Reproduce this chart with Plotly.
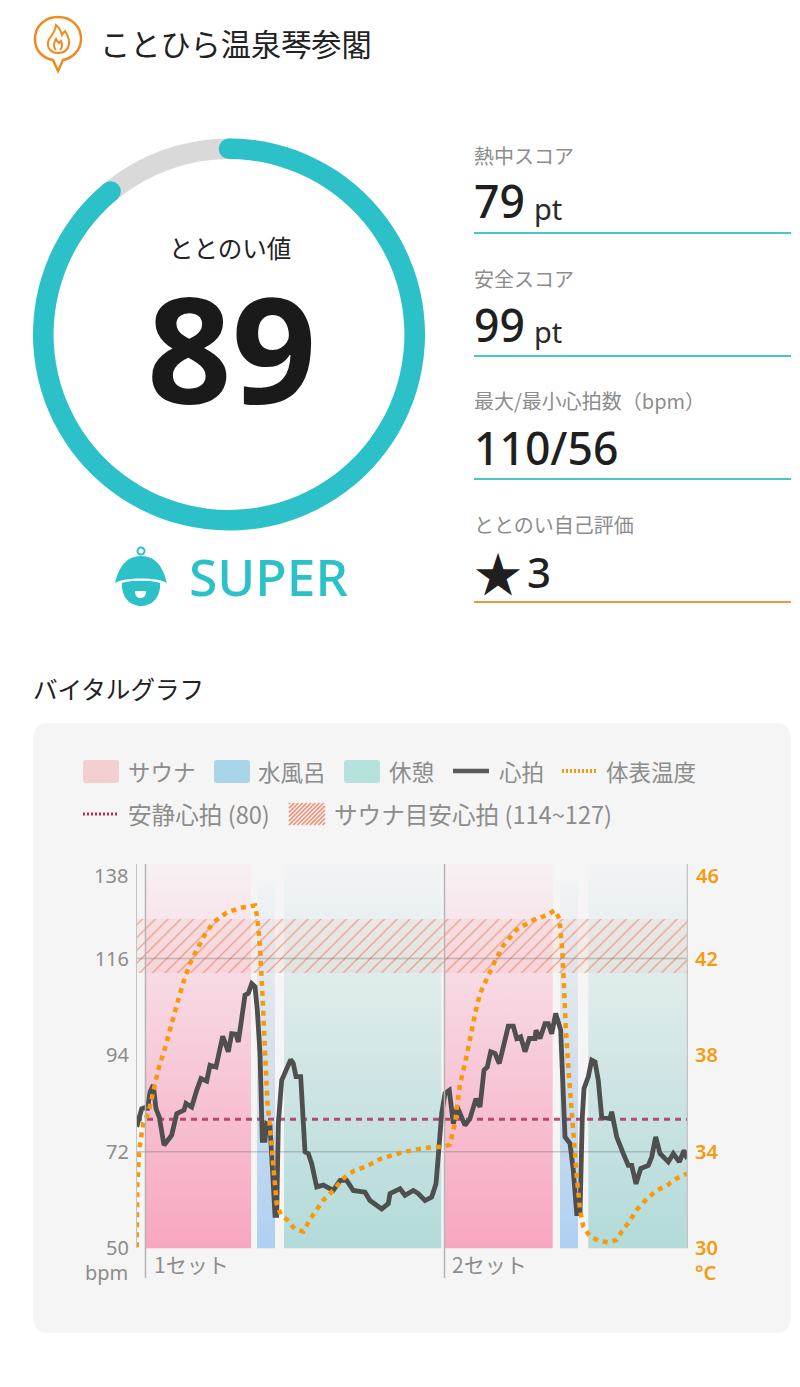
import math
import plotly.graph_objects as go

W, H = 800, 1387
JP = "Noto Sans CJK JP"
LAT = "Noto Sans"
TEAL = "#2cc1c8"
ORANGE = "#f59a0c"
GREY_TXT = "#8c8c8c"
DARK = "#1f1f1f"

# ---------- data ----------
facility = "ことひら温泉琴参閣"
score_label = "ととのい値"
score = 89
rank = "SUPER"
metric_labels = ["熱中スコア", "安全スコア", "最大/最小心拍数（bpm）", "ととのい自己評価"]
metric_values = ["79", "99", "110/56", "3"]
metric_units = ["pt", "pt", "", ""]
hr_ticks = [50, 72, 94, 116]
temp_ticks = [30, 34, 38, 42]
hr_top, temp_top = 138, 46
rest_hr_drawn = 79.4
band_drawn = [112.7, 125]
sets = ["1セット", "2セット"]
set_starts = [9.5, 308.5]
sauna_spans = [(9.7, 115), (309, 416.7)]
cold_spans = [(121, 139), (424, 442)]
rest_spans = [(148, 305.3), (452.3, 551.7)]

hr_t = [0.7, 2.3, 5.7, 10, 11.3, 14, 17.3, 20, 23.3, 28, 32.3, 35.7, 40.7, 43.3, 48, 50, 55.7, 60.7, 65, 70.7,
        74, 80, 86.7, 92.3, 95.7, 100, 102.3, 105.7, 109, 112.3, 115.7, 119, 121.3, 124, 126.3, 129, 130.7, 134,
        137.3, 139, 140.7, 142.3, 145.7, 150.7, 154.7, 157.3, 160, 164.7, 169, 172.3, 175.7, 180.7, 187.3, 197.3,
        204, 210.7, 217.3, 229, 234, 245.7, 252.3, 254, 260.7,
        264, 269, 277.3, 282.3, 289, 295.7, 300, 303.3, 305.7, 309, 313.3, 317.3, 321.3, 329, 334, 340, 344, 348,
        351.3, 354.7, 359, 363.3, 369, 372.3, 377.3, 380.7, 384.7, 389, 393.3, 399, 400, 404, 409, 412.3, 415.7,
        419.7, 424.7, 427.3, 429, 434, 437.3, 440.7, 444, 446.3, 448, 452.3, 455.7, 459, 462.3, 465.7, 474, 475.7,
        480.7, 487.3, 492.3, 495.7, 500, 504.7, 512.3, 515.7, 519.7, 524, 532.3, 537.3, 543.3, 548, 551.3]
hr_v = [77.7, 79.2, 81.8, 82.2, 81.5, 85.6, 87.2, 81.8, 79.9, 73.5, 74.6, 75.8, 80.7, 81.1, 81.5, 83.0, 82.2, 86.0,
        88.7, 88.1, 91.7, 91.3, 98.3, 94.8, 98.9, 98.8, 97.0, 102.4, 107.7, 108.1, 110.3, 109.6, 104.3, 94.4, 74.6,
        74.6, 78.4, 78.0, 64.7, 57.5, 57.5, 78.4, 88.3, 91.3, 93.0, 92.1, 89.1, 89.1, 72.0, 71.6, 69.3, 64.0, 64.4,
        63.2, 65.5, 65.5, 63.2, 62.8, 60.9, 59.0, 60.2, 62.5, 63.2,
        63.6, 62.1, 63.2, 62.5, 60.9, 61.7, 64.7, 73.9, 80.7, 85.3, 86.0, 78.4, 82.2, 78.0, 79.6, 84.1, 82.2, 90.6,
        91.3, 94.8, 94.4, 92.1, 98.2, 100.6, 100.6, 97.8, 98.2, 94.8, 97.8, 97.8, 99.7, 97.8, 101.2, 101.2, 98.9,
        103.5, 99.7, 87.5, 75.4, 73.9, 67.8, 57.9, 57.9, 79.9, 86.4, 89.1, 92.9, 92.5, 88.3, 79.9, 79.6, 81.1,
        75.4, 71.6, 68.9, 68.9, 64.7, 68.2, 68.9, 70.8, 75.4, 71.6, 69.7, 71.6, 69.7, 72.3, 70.4]
temp_t = [0.7, 1.3, 3.3, 7.3, 12.3, 17.3, 22.3, 29, 35.7, 42.3, 48, 54, 60.7, 69, 77.3, 90.7, 104, 119, 121.3, 124,
          126.7, 129, 131.3, 134, 137.3, 140.7, 144.7, 150.7, 159, 167.3, 174, 180.7, 187.3, 197.3, 207.3, 217.3,
          230.7, 244, 260.7,
          264, 280.7, 297.3, 305.7, 314, 319, 324, 329, 334, 339, 344, 350.7, 359, 367.3, 380.7, 397.3, 410.7, 419,
          423.3, 426.3, 427.3, 429.7, 432.3, 435.7, 440.7, 444, 447.3, 454, 464, 472.3, 480.7, 485.7, 494, 500.7,
          510.7, 520.7, 530.7, 540.7, 551.3]
temp_v = [30.05, 32.7, 34.1, 35.2, 35.6, 36.5, 37.4, 38.3, 39.4, 40.3, 41.1, 41.8, 42.35, 43.0, 43.5, 43.9, 44.1, 44.2,
          43.7, 42.5, 40.3, 38.2, 36.1, 35.0, 33.4, 31.85, 31.4, 31.2, 30.8, 30.7, 31.2, 31.6, 32.0, 32.4, 32.9, 33.2,
          33.4, 33.7, 33.9,
          33.95, 34.1, 34.2, 34.2, 34.3, 35.2, 36.8, 37.65, 38.8, 39.7, 40.55, 41.2, 41.9, 42.55, 43.2, 43.6, 43.8,
          44.0, 43.65, 42.35, 41.0, 39.2, 37.5, 35.4, 33.0, 31.6, 30.9, 30.5, 30.3, 30.25, 30.35, 30.7, 31.15, 31.6,
          32.05, 32.4, 32.6, 32.9, 33.1]

legend_row1 = ["サウナ", "水風呂", "休憩", "心拍", "体表温度"]
legend_row2 = ["安静心拍 (80)", "サウナ目安心拍 (114~127)"]


# ---------- pixel helpers for page furniture ----------
def fx(x):
    return x / W


def fy(y):
    return 1 - y / H


def pth(s):
    """Path given as page pixels: tokens are commands or 'x,y'."""
    out = []
    for tok in s.split():
        if "," in tok:
            a, b = tok.split(",")
            out.append(f"{fx(float(a)):.5f},{fy(float(b)):.5f}")
        else:
            out.append(tok)
    return " ".join(out)


shapes, ann = [], []


def text(x, y, s, size, color=GREY_TXT, fam=JP, anchor="left", weight=None):
    f = dict(size=size, color=color, family=fam)
    if weight:
        f["weight"] = weight
    ann.append(dict(xref="paper", yref="paper", x=fx(x), y=fy(y), text=s, showarrow=False, xanchor=anchor,
                    yanchor="middle", font=f, align="left", borderpad=0))


def circle(cx, cy, r, fill, line=None, lw=0, layer="above"):
    shapes.append(dict(type="circle", xref="paper", yref="paper", x0=fx(cx - r), x1=fx(cx + r), y0=fy(cy + r),
                       y1=fy(cy - r), fillcolor=fill, line=dict(color=line or fill, width=lw), layer=layer))


def hline(x0, x1, y, color, width=2, dash="solid"):
    shapes.append(dict(type="line", xref="paper", yref="paper", x0=fx(x0), x1=fx(x1), y0=fy(y), y1=fy(y),
                       line=dict(color=color, width=width, dash=dash)))


fig = go.Figure()

# panel
shapes.append(dict(type="path", xref="paper", yref="paper", layer="below", fillcolor="#f5f5f5", line=dict(width=0),
                   path=pth("M 49,723 L 775,723 Q 791,723 791,739 L 791,1317 Q 791,1333 775,1333 "
                            "L 49,1333 Q 33,1333 33,1317 L 33,739 Q 33,723 49,723 Z")))

# header
shapes.append(dict(type="path", xref="paper", yref="paper", line=dict(color="#f08a1e", width=2.5),
                   path=pth("M 53,60 C 42,58 35,50 35,39 C 35,26 45,17 58,17 C 71,17 81,26 81,39 C 81,50 73,58 63,60 "
                            "L 58,71 L 53,60 Z")))
shapes.append(dict(type="path", xref="paper", yref="paper", line=dict(color="#f08a1e", width=2),
                   path=pth("M 58,53 C 51,53 47,48 48,42 C 49,37 55,34 56,25 C 60,28 61,32 62,35 C 63,33 64,32 65,31 "
                            "C 68,36 70,40 69,44 C 68,50 64,53 58,53 Z M 56,50 C 53,47 53,44 56,39 C 57,41 58,42 59,43 "
                            "C 60,42 61,41 61,41 C 63,45 62,48 60,50")))
text(99, 43, facility, 30.2, "#222222")

# ring
fig.add_trace(go.Pie(values=[score, 100 - score], hole=0.895, sort=False, direction="clockwise", rotation=0,
                     marker=dict(colors=[TEAL, "#d9d9d9"], line=dict(width=0)), textinfo="none", hoverinfo="skip",
                     showlegend=False, automargin=False,
                     domain=dict(x=[fx(33), fx(425)], y=[fy(530.5), fy(138.5)])))
RCX, RCY, RO, RW = 229, 334.5, 196, 20.5
rm = RO - RW / 2
for frac in (0, score / 100):
    a = 2 * math.pi * frac
    circle(RCX + rm * math.sin(a), RCY - rm * math.cos(a), RW / 2, TEAL)
text(230, 247, score_label, 24.5, "#222222", anchor="center")
text(231, 346, str(score), 148, "#1a1a1a", LAT, "center", 700)

# rank mascot
shapes.append(dict(type="path", xref="paper", yref="paper", fillcolor=TEAL, line=dict(width=0),
                   path=pth("M 115,583 C 118,571 124,556 141,556 C 158,556 164,571 167,583 C 158,577 124,577 115,583 Z")))
shapes.append(dict(type="path", xref="paper", yref="paper", fillcolor=TEAL, line=dict(width=0),
                   path=pth("M 122,583 C 130,580 152,580 160,583 C 161,597 152,606 141,606 C 130,606 121,597 122,583 Z")))
circle(141, 551, 3.5, "white", TEAL, 2)
shapes.append(dict(type="path", xref="paper", yref="paper", fillcolor="white", line=dict(width=0),
                   path=pth("M 135,591 L 146,591 C 146,597 143,598 140.5,598 C 138,598 135,597 135,591 Z")))
text(188, 576, rank, 51.5, TEAL, LAT, "left", 500)

# metrics
for i, (lab, val, unit) in enumerate(zip(metric_labels, metric_values, metric_units)):
    y0 = 155 + i * 123
    text(473, y0, lab, 20, GREY_TXT)
    if i == 3:
        text(473, y0 + 47, "★", 48, "#1f1f1f", JP)
        text(526, y0 + 47, val, 42, "#1f1f1f", LAT, "left", 500)
    else:
        text(473, y0 + 46, val, 44.5, "#1f1f1f", LAT, "left", 500)
    if unit:
        text(533, y0 + 53, unit, 29, "#2a2a2a", LAT)
    hline(474, 791, y0 + 78, "#f0963c" if i == 3 else "#4cc4cc", 2)

# chart heading and legend
text(32, 688, "バイタルグラフ", 24.6, "#222222")
for x0, col in ((83, "#f2cfd1"), (214, "#a9d5e8"), (344, "#b5e3dc")):
    shapes.append(dict(type="path", xref="paper", yref="paper", fillcolor=col, line=dict(width=0),
                       path=pth(f"M {x0+3},760 L {x0+33},760 Q {x0+36},760 {x0+36},763 L {x0+36},780 "
                                f"Q {x0+36},783 {x0+33},783 L {x0+3},783 Q {x0},783 {x0},780 L {x0},763 "
                                f"Q {x0},760 {x0+3},760 Z")))
for x, s in zip((127, 257, 388, 498, 605), legend_row1):
    text(x, 771, s, 22.5)
hline(453, 489, 771, "#5a5a5a", 4.5)
hline(562, 598, 771, ORANGE, 4, "2px,2px")
hline(83, 119, 814, "#b0305a", 3, "2px,2px")
text(127, 814, legend_row2[0], 23.6)
text(333, 814, legend_row2[1], 23.6)
for k in range(-5, 11):
    x_a, x_b = 289 + k * 4.2, 289 + k * 4.2 + 22
    y_a, y_b = 825, 803
    if x_a < 289:
        y_a -= 289 - x_a
        x_a = 289
    if x_b > 325:
        y_b += x_b - 325
        x_b = 325
    if x_a < 325 and y_a >= y_b:
        shapes.append(dict(type="line", xref="paper", yref="paper", x0=fx(x_a), x1=fx(x_b), y0=fy(y_a), y1=fy(y_b),
                           line=dict(color="#ee9278", width=1.7)))


# ---------- chart ----------
def zone(span, top, name, c_top, c_mid, c_bot):
    a, b = span
    fig.add_trace(go.Scatter(x=[a, b, b, a, a], y=[50, 50, top, top, 50], mode="lines", line=dict(width=0),
                             fill="toself", hoverinfo="skip", showlegend=False, name=name,
                             fillgradient=dict(type="vertical",
                                               colorscale=[[0, c_bot], [0.5, c_mid], [1, c_top]])))


for s in sauna_spans:
    zone(s, 137.5, "sauna", "#f7f0f2", "#f7cbd9", "#f8a6c0")
for s in cold_spans:
    zone(s, 134, "cold", "#f2f4f6", "#d3dfe9", "#aed0f3")
for s in rest_spans:
    zone(s, 137.5, "rest", "#f2f4f4", "#d3e6e6", "#b2dbd9")

fig.add_trace(go.Scatter(x=[0, 552, 552, 0, 0], y=[band_drawn[0], band_drawn[0], band_drawn[1], band_drawn[1],
                                                   band_drawn[0]],
                         mode="lines", line=dict(width=0), fill="toself", hoverinfo="skip", showlegend=False,
                         fillcolor="rgba(0,0,0,0)",
                         fillpattern=dict(shape="/", size=9, solidity=0.13, fgcolor="rgba(230,115,85,0.72)",
                                          bgcolor="rgba(240,170,150,0.12)", fillmode="replace")))
for yy in (72, 116):
    fig.add_trace(go.Scatter(x=[0, 552], y=[yy, yy], mode="lines", line=dict(color="rgba(110,110,110,0.35)", width=1.5),
                             hoverinfo="skip", showlegend=False))
fig.add_trace(go.Scatter(x=[0, 552], y=[rest_hr_drawn, rest_hr_drawn], mode="lines", hoverinfo="skip", showlegend=False,
                         line=dict(color="rgba(170,50,95,0.85)", width=3, dash="6px,5px")))
fig.add_trace(go.Scatter(x=hr_t, y=hr_v, mode="lines", name="心拍", showlegend=False,
                         line=dict(color="#4f4f4f", width=4.8, shape="linear")))
fig.add_trace(go.Scatter(x=temp_t, y=temp_v, mode="lines", name="体表温度", yaxis="y2", showlegend=False,
                         line=dict(color=ORANGE, width=4.5, dash="5px,5px")))

# axis rules that run past the plot into the set labels
for x, y_bot, col, w in ((0, 1248, "#c4c4c4", 2), (552, 1248, "#c4c4c4", 2.5),
                         (set_starts[0], 1278, "#b5b5b5", 1.5), (set_starts[1], 1278, "#b5b5b5", 1.5)):
    shapes.append(dict(type="line", xref="x", yref="paper", x0=x, x1=x, y0=fy(y_bot), y1=fy(864),
                       line=dict(color=col, width=w)))
for x, s in zip((153, 451), sets):
    text(x, 1264, s, 21)

text(129, 1272, "bpm", 20, GREY_TXT, LAT, "right")
text(694, 1272, "°C", 20, ORANGE, LAT, "left", 600)
ann.append(dict(xref="paper", yref="y", x=fx(130), y=hr_top, yshift=-13, text=str(hr_top), showarrow=False,
                xanchor="right", yanchor="middle", font=dict(size=20, color=GREY_TXT, family=LAT)))
ann.append(dict(xref="paper", yref="y", x=fx(694), y=hr_top, yshift=-13, text=str(temp_top), showarrow=False,
                xanchor="left", yanchor="middle", font=dict(size=20, color=ORANGE, family=LAT, weight=600)))

fig.update_layout(
    template="none",
    width=W, height=H, margin=dict(l=0, r=0, t=0, b=0, pad=0), autosize=False,
    paper_bgcolor="white", plot_bgcolor="rgba(0,0,0,0)", showlegend=False,
    font=dict(family=JP),
    shapes=shapes, annotations=ann,
    xaxis=dict(domain=[fx(136), fx(688)], range=[0, 552], visible=False, fixedrange=True, automargin=False),
    yaxis=dict(domain=[fy(1248.4), fy(862)], range=[50, 138], tickvals=hr_ticks, ticktext=[str(v) for v in hr_ticks],
               showgrid=False, zeroline=False, showline=False, ticks="", automargin=False,
               tickfont=dict(size=20, color=GREY_TXT, family=LAT), ticklabelstandoff=6, fixedrange=True),
    yaxis2=dict(overlaying="y", side="right", range=[30, 46], tickvals=temp_ticks, automargin=False,
                ticktext=[str(v) for v in temp_ticks], showgrid=False, zeroline=False, showline=False, ticks="",
                tickfont=dict(size=20, color=ORANGE, family=LAT, weight=600), ticklabelstandoff=6, fixedrange=True),
)

fig.write_html("out.html", config=dict(displayModeBar=False, responsive=False),
               post_script="document.body.style.margin='0';document.documentElement.style.overflow='hidden';")
